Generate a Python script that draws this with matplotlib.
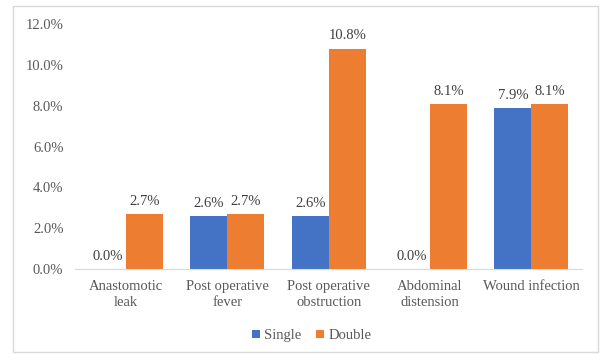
import numpy as np
import matplotlib.pyplot as plt
from matplotlib.patches import Rectangle

categories = ["Anastomotic\nleak", "Post operative\nfever", "Post operative\nobstruction",
              "Abdominal\ndistension", "Wound infection"]
single = [0.0, 2.6, 2.6, 0.0, 7.9]
double = [2.7, 2.7, 10.8, 8.1, 8.1]
yticks = [0, 2, 4, 6, 8, 10, 12]

plt.rcParams['font.family'] = ['Liberation Serif', 'DejaVu Serif']

fig = plt.figure(figsize=(6.02, 3.54), dpi=100)
ax = fig.add_axes([0.125, 0.24, 0.842, 0.692])

# chart frame
fig.patches.append(Rectangle((0.022, 0.006), 0.972, 0.978, transform=fig.transFigure,
                             fill=False, edgecolor="#d9d9d9", linewidth=1))

x = np.arange(len(categories))
w = 0.365
c_single = "#4472C4"
c_double = "#ED7D31"
b1 = ax.bar(x - w / 2, single, w, color=c_single, label="Single")
b2 = ax.bar(x + w / 2, double, w, color=c_double, label="Double")

for bars, vals in ((b1, single), (b2, double)):
    for r, v in zip(bars, vals):
        ax.text(r.get_x() + r.get_width() / 2, v + 0.3, f"{v:.1f}%", ha="center", va="bottom",
                fontsize=10.5, color="#404040")

ax.set_xlim(-0.5, len(categories) - 0.5)
ax.set_ylim(0, 12)
ax.set_yticks(yticks)
ax.set_yticklabels([f"{t:.1f}%" for t in yticks])
ax.set_xticks(x)
ax.set_xticklabels(categories, linespacing=1.25)
ax.tick_params(axis="both", length=0, labelsize=10.5, colors="#595959")
ax.tick_params(axis="y", pad=8.5)
ax.tick_params(axis="x", pad=8)
for s in ("top", "right", "left"):
    ax.spines[s].set_visible(False)
ax.spines["bottom"].set_color("#d9d9d9")

fig.legend(handles=[b1, b2], loc="center", bbox_to_anchor=(0.518, 0.052), ncol=2, frameon=False,
           prop={"family": "Liberation Serif", "size": 10.5},
           handlelength=0.55, handleheight=0.55, handletextpad=0.3,
           columnspacing=1.0, labelcolor="#595959")

fig.savefig("out.png", dpi=100)
